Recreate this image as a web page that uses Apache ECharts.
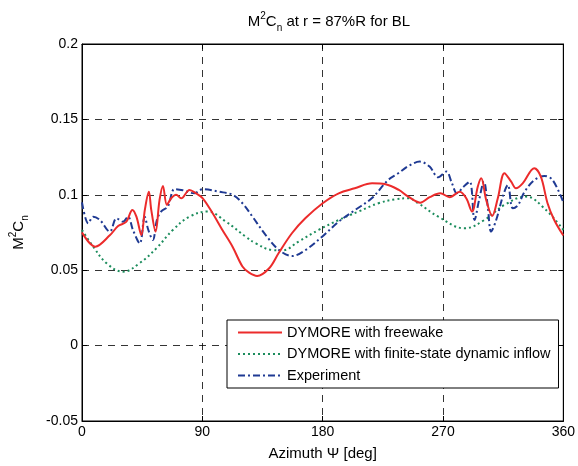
<!DOCTYPE html>
<html>
<head>
<meta charset="utf-8">
<script src="https://cdn.jsdelivr.net/npm/echarts@6/dist/echarts.min.js"></script>
<style>html,body{margin:0;padding:0;background:#fff;}#c{width:578px;height:466px;}</style>
</head>
<body>
<div id="c"></div>
<script>
var xTicks = [0, 90, 180, 270, 360];
var yTicks = [-0.05, 0, 0.05, 0.1, 0.15, 0.2];

var freewakeX = [0,10,21,27,33,37.7,40.7,44.4,47,50,51.8,55,58,60.5,63.5,66.7,70.4,74.2,80.4,85.3,90.3,97.7,105,112.6,120,125,131,140,147,157,167,180,192,204,217,227,237,244,253,260,268,275,282.5,287.4,291.7,296,298.6,302.3,306.8,311,316,321,324.6,329.6,338.3,343.2,348.2,353.2,360];
var freewakeY = [0.075,0.0656,0.0733,0.0793,0.082,0.090,0.0855,0.0733,0.09,0.102,0.090,0.0756,0.0966,0.1059,0.0933,0.0977,0.100,0.0977,0.1032,0.101,0.0977,0.0878,0.0767,0.0656,0.0525,0.0484,0.0462,0.0513,0.0612,0.0745,0.0844,0.0944,0.101,0.1043,0.1076,0.107,0.1032,0.0988,0.0948,0.0984,0.101,0.0984,0.102,0.0977,0.0889,0.1054,0.111,0.0966,0.086,0.0977,0.1143,0.1087,0.1043,0.1076,0.1176,0.112,0.0944,0.0833,0.073];

var finiteX = [0,8.4,18.4,30.7,43,55.6,68,80.4,94,107.6,122.5,130,142.3,150,162,177,192,206.8,221.7,234,244,251.5,266.4,286.2,301,316,332,345.8,360];
var finiteY = [0.0767,0.0656,0.0546,0.049,0.0546,0.0645,0.0767,0.0855,0.0889,0.0822,0.0722,0.0678,0.0634,0.0632,0.069,0.0767,0.0833,0.0889,0.0944,0.097,0.0977,0.0944,0.0855,0.0778,0.0833,0.0933,0.0988,0.091,0.0767];

var expX = [0,4.7,8.4,13.4,20.8,25.8,30.7,34.4,38.1,43.2,46.9,49.5,53,56,59.3,64.2,69.2,75.4,83.8,90.3,102.7,112.6,120,127.5,137.4,147.3,157.2,167.2,179.6,192,204.4,216.7,229,236.6,244,252.7,260,266.4,272.5,276.7,280.4,285.4,290,293.6,297,300.6,303.5,306,309.8,314.7,318.5,322.2,326,331,338.3,345.8,352,360];
var expY = [0.095,0.0811,0.0855,0.0833,0.0756,0.0844,0.0822,0.0855,0.0767,0.0678,0.0855,0.077,0.070,0.0833,0.089,0.0922,0.1037,0.103,0.101,0.1037,0.102,0.100,0.0944,0.0855,0.0733,0.0634,0.0594,0.0634,0.0722,0.0822,0.090,0.0977,0.1098,0.1143,0.119,0.122,0.1187,0.1116,0.1154,0.1076,0.101,0.1054,0.1087,0.0833,0.0966,0.1087,0.0922,0.0756,0.0833,0.0988,0.1065,0.091,0.093,0.102,0.1098,0.1125,0.1098,0.095];

var seriesNames = ['DYMORE with freewake', 'DYMORE with finite-state dynamic inflow', 'Experiment'];

function pairs(xs, ys) { return xs.map(function (x, i) { return [x, ys[i]]; }); }

var FONT = 'Liberation Sans, Arial, sans-serif';
var chart = echarts.init(document.getElementById('c'), null, {renderer: 'canvas'});

var axisCommon = {
  axisLine: {show: true, onZero: false, lineStyle: {color: '#000', width: 1}},
  axisTick: {show: true, inside: true, length: 5, lineStyle: {color: '#000'}},
  splitLine: {show: false}
};

chart.setOption({
  animation: false,
  backgroundColor: '#fff',
  title: {
    text: 'M{sup|2}C{sub|n} at r = 87%R for BL',
    left: 324, top: 6, textAlign: 'center',
    textStyle: {
      fontFamily: FONT, fontSize: 15, fontWeight: 'normal', color: '#000', lineHeight: 22,
      rich: {
        sup: {fontFamily: FONT, fontSize: 10, verticalAlign: 'top', lineHeight: 22, color: '#000'},
        sub: {fontFamily: FONT, fontSize: 10, verticalAlign: 'bottom', lineHeight: 22, color: '#000'}
      }
    }
  },
  grid: {left: 82, right: 12, top: 44, bottom: 45, show: true, borderColor: '#000', borderWidth: 1, backgroundColor: '#fff'},
  legend: {
    orient: 'vertical', left: 227, top: 320,
    backgroundColor: '#fff', borderColor: '#000', borderWidth: 1, borderRadius: 0,
    padding: [5, 8, 5, 10], itemWidth: 44, itemHeight: 14, itemGap: 6.5, itemStyle: {opacity: 0},
    textStyle: {fontFamily: FONT, fontSize: 14.5, color: '#000'},
    data: seriesNames
  },
  xAxis: [
    Object.assign({}, axisCommon, {
      type: 'value', min: xTicks[0], max: xTicks[xTicks.length - 1], interval: 90,
      position: 'bottom',
      name: 'Azimuth \u03a8 [deg]', nameLocation: 'middle', nameGap: 25,
      nameTextStyle: {fontFamily: FONT, fontSize: 15, color: '#000'},
      axisLabel: {fontFamily: FONT, fontSize: 14, color: '#000', margin: 4},
      splitLine: {show: true, lineStyle: {color: '#000', type: [7, 6], width: 0.8}}
    }),
    Object.assign({}, axisCommon, {
      type: 'value', min: xTicks[0], max: xTicks[xTicks.length - 1], interval: 90,
      position: 'top', axisLabel: {show: false}
    })
  ],
  yAxis: [
    Object.assign({}, axisCommon, {
      type: 'value', min: yTicks[0], max: yTicks[yTicks.length - 1], interval: 0.05,
      position: 'left',
      name: 'M{sup|2}C{sub|n}', nameLocation: 'middle', nameGap: 52, nameRotate: 90,
      nameTextStyle: {
        fontFamily: FONT, fontSize: 15, color: '#000', lineHeight: 22,
        rich: {
          sup: {fontFamily: FONT, fontSize: 10, verticalAlign: 'top', lineHeight: 22, color: '#000'},
          sub: {fontFamily: FONT, fontSize: 10, verticalAlign: 'bottom', lineHeight: 22, color: '#000'}
        }
      },
      axisLabel: {fontFamily: FONT, fontSize: 14, color: '#000', margin: 4,
        formatter: function (v) { return String(Math.round(v * 100) / 100); }},
      splitLine: {show: true, lineStyle: {color: '#000', type: [7, 6], width: 0.8}}
    }),
    Object.assign({}, axisCommon, {
      type: 'value', min: yTicks[0], max: yTicks[yTicks.length - 1], interval: 0.05,
      position: 'right', axisLabel: {show: false}
    })
  ],
  series: [
    {
      name: seriesNames[2], type: 'line', data: pairs(expX, expY), showSymbol: false, symbol: 'none',
      smooth: 0.35, z: 3,
      lineStyle: {color: '#1f3a93', width: 2, type: [7, 3, 2, 3]}, itemStyle: {color: '#1f3a93'}
    },
    {
      name: seriesNames[1], type: 'line', data: pairs(finiteX, finiteY), showSymbol: false, symbol: 'none',
      smooth: 0.4, z: 2,
      lineStyle: {color: '#1b8c5c', width: 2, type: [2, 3]}, itemStyle: {color: '#1b8c5c'}
    },
    {
      name: seriesNames[0], type: 'line', data: pairs(freewakeX, freewakeY), showSymbol: false, symbol: 'none',
      smooth: 0.35, z: 4,
      lineStyle: {color: '#ec2b2b', width: 2}, itemStyle: {color: '#ec2b2b'}
    }
  ]
});
</script>
</body>
</html>
